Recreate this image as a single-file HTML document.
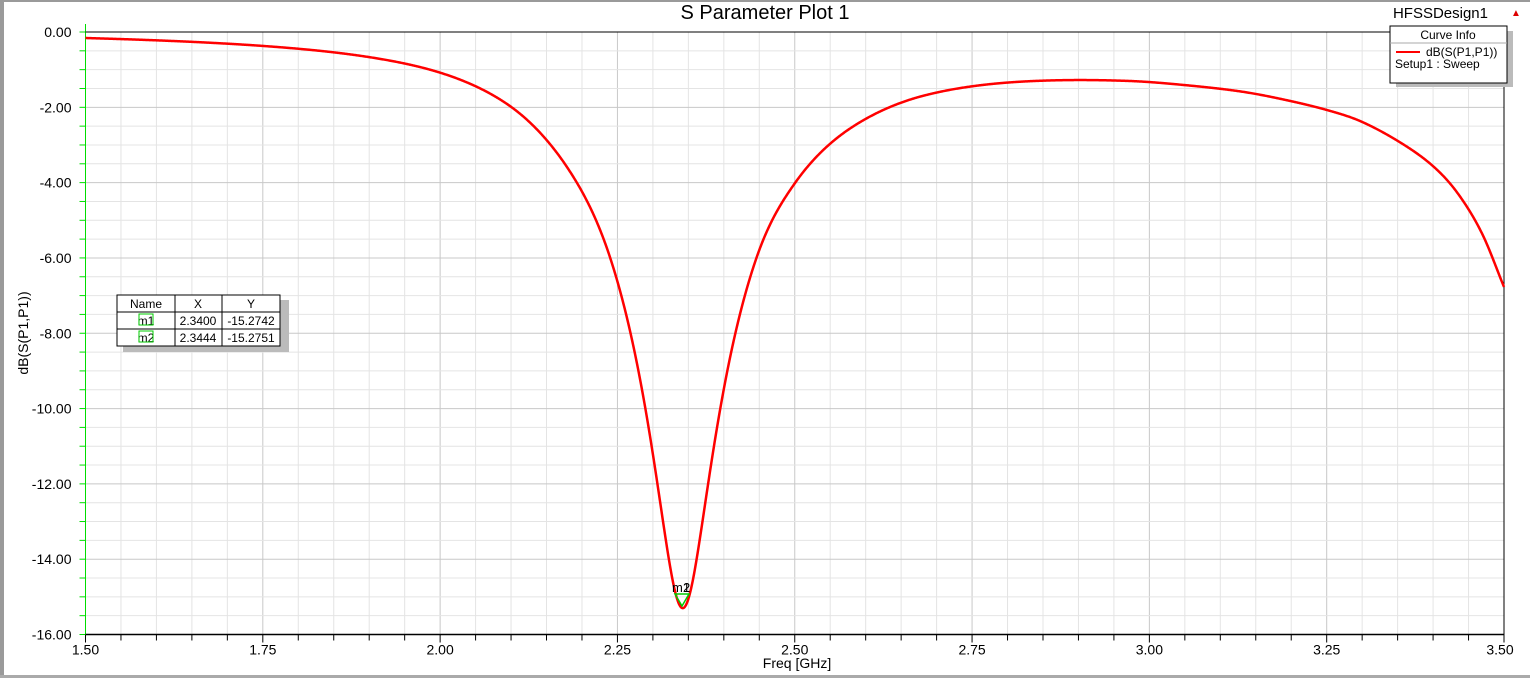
<!DOCTYPE html><html><head><style>
body{margin:0;background:#fff;}
svg text{font-family:"Liberation Sans",Arial,sans-serif;}
</style></head><body>
<svg id="s" width="1530" height="678" xmlns="http://www.w3.org/2000/svg">
<rect x="0" y="0" width="1530" height="678" fill="#fff"/>
<rect x="0" y="0" width="4" height="678" fill="#9a9a9a"/>
<rect x="0" y="0" width="1530" height="2" fill="#9a9a9a"/>
<rect x="0" y="675" width="1530" height="3" fill="#aaa"/>
<g id="grid"></g>
<text x="765" y="19" font-size="20" text-anchor="middle">S Parameter Plot 1</text>
<text x="1488" y="18" font-size="15" text-anchor="end">HFSSDesign1</text>
<text x="1511" y="16" font-size="10" fill="#d00">▲</text>
<text x="797" y="668" font-size="14" text-anchor="middle">Freq [GHz]</text>
<text transform="translate(28,333) rotate(-90)" font-size="14" text-anchor="middle">dB(S(P1,P1))</text>
<polyline id="curve" fill="none" stroke="#f00" stroke-width="2.5" stroke-linejoin="round"/>
<polygon points="675,594 689,594 682,606" fill="none" stroke="#0c0" stroke-width="1.5"/>
<text x="672" y="592" font-size="13">m1</text><text x="683" y="592" font-size="13">2</text>
<rect x="1396" y="31" width="117" height="56" fill="#bbb"/>
<rect x="1390" y="26" width="117" height="57" fill="#fff" stroke="#000"/>
<line x1="1390" y1="43" x2="1507" y2="43" stroke="#aaa"/>
<text x="1448" y="39" font-size="12" text-anchor="middle">Curve Info</text>
<line x1="1396" y1="52" x2="1420" y2="52" stroke="#f00" stroke-width="2"/>
<text x="1426" y="56" font-size="12">dB(S(P1,P1))</text>
<text x="1395" y="68" font-size="12">Setup1 : Sweep</text>
<rect x="123" y="300" width="166" height="52" fill="#bbb"/>
<rect x="117" y="295" width="163" height="51" fill="#fff" stroke="#000"/>
<line x1="117" y1="312" x2="280" y2="312" stroke="#000"/>
<line x1="117" y1="329" x2="280" y2="329" stroke="#000"/>
<line x1="175" y1="295" x2="175" y2="346" stroke="#000"/>
<line x1="222" y1="295" x2="222" y2="346" stroke="#000"/>
<g font-size="12" text-anchor="middle">
<text x="146" y="308">Name</text><text x="198" y="308">X</text><text x="251" y="308">Y</text>
<text x="146" y="325">m1</text><text x="198" y="325">2.3400</text><text x="251" y="325">-15.2742</text>
<text x="146" y="342">m2</text><text x="198" y="342">2.3444</text><text x="251" y="342">-15.2751</text>
</g>
<rect x="139" y="314" width="14" height="11" fill="none" stroke="#0c0"/>
<rect x="139" y="331" width="14" height="11" fill="none" stroke="#0c0"/>
</svg>
<script>
const X0=85.5,X1=1504,Y0=32,Y1=634.5;
const fx=f=>X0+(f-1.5)/2*(X1-X0), fy=d=>Y0+(-d)/16*(Y1-Y0);
let g='';
for(let i=0;i<=40;i++){const x=fx(1.5+i*0.05);const maj=i%5==0;
g+=`<line x1="${x}" y1="${Y0}" x2="${x}" y2="${Y1}" stroke="${maj?'#c8c8c8':'#e4e4e4'}"/>`;
g+=`<line x1="${x}" y1="${Y1}" x2="${x}" y2="${Y1+(maj?8:6)}" stroke="#000"/>`;
if(maj){const f=(1.5+i*0.05).toFixed(2);g+=`<text x="${i==40?x-4:x}" y="${Y1+20}" font-size="14" text-anchor="middle">${f}</text>`;}}
for(let i=0;i<=32;i++){const y=fy(-i*0.5);const maj=i%4==0;
g+=`<line x1="${X0}" y1="${y}" x2="${X1}" y2="${y}" stroke="${maj?'#c8c8c8':'#e4e4e4'}"/>`;
g+=`<line x1="${X0-6}" y1="${y}" x2="${X0}" y2="${y}" stroke="#0d0"/>`;
if(maj)g+=`<text x="${X0-14}" y="${y+5}" font-size="14" text-anchor="end">${(-i*0.5).toFixed(2)}</text>`;}
g+=`<line x1="${X0}" y1="${Y0-8}" x2="${X0}" y2="${Y1}" stroke="#0d0"/>`;
g+=`<line x1="${X0}" y1="${Y0}" x2="${X1}" y2="${Y0}" stroke="#000"/>`;
g+=`<line x1="${X0}" y1="${Y1}" x2="${X1}" y2="${Y1}" stroke="#000" stroke-width="1.5"/>`;
g+=`<line x1="${X1}" y1="${Y0}" x2="${X1}" y2="${Y1}" stroke="#000"/>`;
document.getElementById('grid').innerHTML=g;
const f0=2.342,B=0.189,gmin=Math.pow(10,-15.3/10);
const model=f=>{const u=(f-f0)/B;return 10*Math.log10(1-(1-gmin)/(1+u*u));};
const K=[[1.5,-0.16],[1.75,-0.37],[1.901,-0.67],[2.0,-1.08],[2.098,-1.96],[2.179,-3.59],[2.24,-6.01],[2.342,-15.3],[2.446,-6],[2.5,-4.02],[2.572,-2.64],[2.676,-1.72],[2.818,-1.32],[2.971,-1.3],[3.05,-1.41],[3.129,-1.58],[3.186,-1.78],[3.25,-2.07],[3.299,-2.38],[3.356,-2.96],[3.401,-3.58],[3.435,-4.29],[3.469,-5.35],[3.5,-6.77]];
const R=K.map(k=>[k[0],k[1]-model(k[0])]);
function res(f){let i=0;while(i<R.length-2&&f>R[i+1][0])i++;
const p0=R[Math.max(0,i-1)],p1=R[i],p2=R[i+1],p3=R[Math.min(R.length-1,i+2)];
const h=p2[0]-p1[0],t=(f-p1[0])/h;
const m1=(p2[1]-p0[1])/(p2[0]-p0[0])*h, m2=(p3[1]-p1[1])/(p3[0]-p1[0])*h;
const t2=t*t,t3=t2*t;
return (2*t3-3*t2+1)*p1[1]+(t3-2*t2+t)*m1+(-2*t3+3*t2)*p2[1]+(t3-t2)*m2;}
const out=[];
for(let f=1.5;f<=3.5001;f+=0.001){const d=model(f)+res(f);out.push(fx(f).toFixed(2)+','+fy(d).toFixed(2));}
document.getElementById('curve').setAttribute('points',out.join(' '));
</script>
</body></html>
